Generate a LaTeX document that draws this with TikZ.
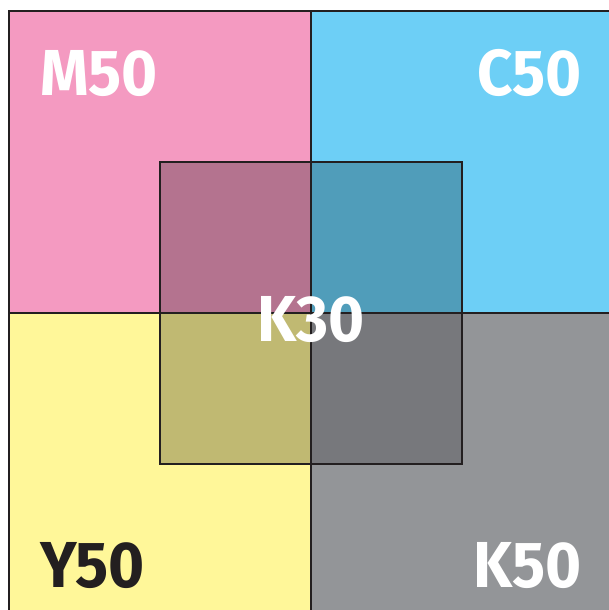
\documentclass[tikz,border=0pt]{standalone}
\usepackage{fontspec}
\setmainfont{Fira Sans}[FakeStretch=0.95]
\definecolor{inkDark}{HTML}{231F20}
\definecolor{magFifty}{HTML}{F49AC1}
\definecolor{cyaFifty}{HTML}{6DCFF6}
\definecolor{yelFifty}{HTML}{FFF799}
\definecolor{blkFifty}{HTML}{939598}
\definecolor{magOver}{HTML}{B4738F}
\definecolor{cyaOver}{HTML}{509DBA}
\definecolor{yelOver}{HTML}{C0B972}
\definecolor{blkOver}{HTML}{77787C}
\usetikzlibrary{positioning}

\begin{document}
\begin{tikzpicture}[
  x=1pt, y=-1pt,
  edge/.style={draw=inkDark, line width=2.4pt},
  label/.style={inner sep=0pt, font=\bfseries\fontsize{65}{65}\selectfont, text=white}
]
  \useasboundingbox (0,0) rectangle (609,610);
  % four quadrants
  \fill[magFifty] (9,11) rectangle (311,313);
  \fill[cyaFifty] (311,11) rectangle (613,313);
  \fill[yelFifty] (9,313) rectangle (311,615);
  \fill[blkFifty] (311,313) rectangle (613,615);
  % K30 overlay
  \fill[magOver] (160,162) rectangle (311,313);
  \fill[cyaOver] (311,162) rectangle (462,313);
  \fill[yelOver] (160,313) rectangle (311,464);
  \fill[blkOver] (311,313) rectangle (462,464);
  % outlines
  \draw[edge] (9,11) rectangle (613,615);
  \draw[edge] (311,11) -- (311,615);
  \draw[edge] (9,313) -- (613,313);
  \draw[edge] (160,162) rectangle (462,464);
  % labels
  \node[label, anchor=base west] (m50) at (40,95) {M50};
  \node[label, anchor=base east] (c50) at (582,95) {C50};
  \node[label, anchor=base] (k30) at (311,341) {K30};
  \node[label, anchor=base west, text=inkDark] (y50) at (40,587) {Y50};
  \node[label, anchor=base east] (k50) at (582,587) {K50};
\end{tikzpicture}
\end{document}
